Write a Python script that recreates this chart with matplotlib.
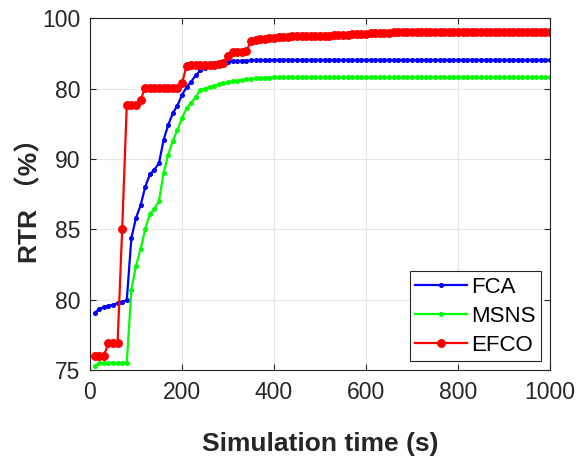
import matplotlib.pyplot as plt
import numpy as np

# sampling times of the simulation (s)
t = np.arange(10, 1001, 10)

# FCA ratio at each sampling time (%)
fca = [79.03, 79.35, 79.45, 79.55, 79.65, 79.75, 79.85, 79.95, 84.4, 85.8,
       86.7, 88.0, 88.9, 89.25, 89.7, 91.35, 92.4, 93.25, 93.8, 94.55,
       95.1, 95.5, 95.95, 96.3, 96.45, 96.65, 96.8, 96.85, 96.9, 96.93,
       96.95, 96.97, 96.98, 97.0, 97.01, 97.02, 97.03, 97.04, 97.04, 97.05] + [97.05] * 60

# MSNS
msns = [75.25, 75.5, 75.5, 75.5, 75.5, 75.5, 75.5, 75.5, 80.7, 82.4,
        83.6, 85.0, 86.1, 86.45, 87.0, 89.0, 90.3, 91.3, 92.05, 92.9,
        93.6, 94.0, 94.4, 94.9, 95.0, 95.1, 95.2, 95.3, 95.38, 95.45,
        95.52, 95.57, 95.62, 95.66, 95.7, 95.73, 95.75, 95.77, 95.78, 95.8] + [95.8] * 60

# EFCO
efco = ([76.0, 76.0, 76.0, 76.9, 76.9, 76.9, 85.0, 93.85, 93.85, 93.85,
         94.2] + [95.05] * 8 + [95.4, 96.6] + [96.65] * 5 +
        [96.7, 96.75, 96.85, 97.35, 97.62, 97.62, 97.62, 97.65, 98.4, 98.45,
         98.5, 98.55, 98.6, 98.6, 98.65, 98.7, 98.7] + [98.74] * 9 +
        [98.8] * 4 + [98.88] * 4 + [98.95] * 5 + [99.0] * 4 + [99.05] * 31)

yticks = [75, 80, 85, 90, 95, 100]
ytick_labels = ['75', '80', '85', '90', '80', '100']
xticks = [0, 200, 400, 600, 800, 1000]

plt.rcParams['font.family'] = ['Liberation Sans', 'Noto Sans CJK SC', 'DejaVu Sans']
dark = '#262626'

fig = plt.figure(figsize=(5.79, 4.59), dpi=100)
ax = fig.add_axes([0.1554, 0.1939, 0.7945, 0.7662])

ax.plot(t, fca, '-o', color='#0000ff', lw=1.6, ms=2.6, label='FCA')
ax.plot(t, msns, '-o', color='#00ff00', lw=1.6, ms=2.6, label='MSNS')
ax.plot(t, efco, '-o', color='#ff0000', lw=1.6, ms=5.4, label='EFCO')

ax.set_xlim(0, 1000)
ax.set_ylim(75, 100)
ax.set_xticks(xticks)
ax.set_yticks(yticks)
ax.set_yticklabels(ytick_labels)
ax.grid(True, color='#e6e6e6', lw=0.8)
ax.set_axisbelow(True)
ax.tick_params(direction='in', top=True, right=True, length=4, width=0.8,
               labelsize=16.5, colors=dark)
ax.tick_params(axis='x', pad=8)
ax.tick_params(axis='y', pad=7)
for s in ax.spines.values():
    s.set_color(dark)
    s.set_linewidth(0.8)

ax.set_xlabel('Simulation time (s)', fontsize=19, fontweight='bold', color=dark, labelpad=20)
ax.set_ylabel('RTR （%）', fontsize=19, fontweight='bold', color=dark, labelpad=0)

leg = ax.legend(loc='lower right', fontsize=16, fancybox=False, framealpha=1,
                edgecolor=dark, handlelength=2.3, handletextpad=0.2,
                borderpad=0.25, labelspacing=0.35, borderaxespad=0.4)
leg.get_frame().set_linewidth(0.8)

fig.savefig('out.png', dpi=100)
